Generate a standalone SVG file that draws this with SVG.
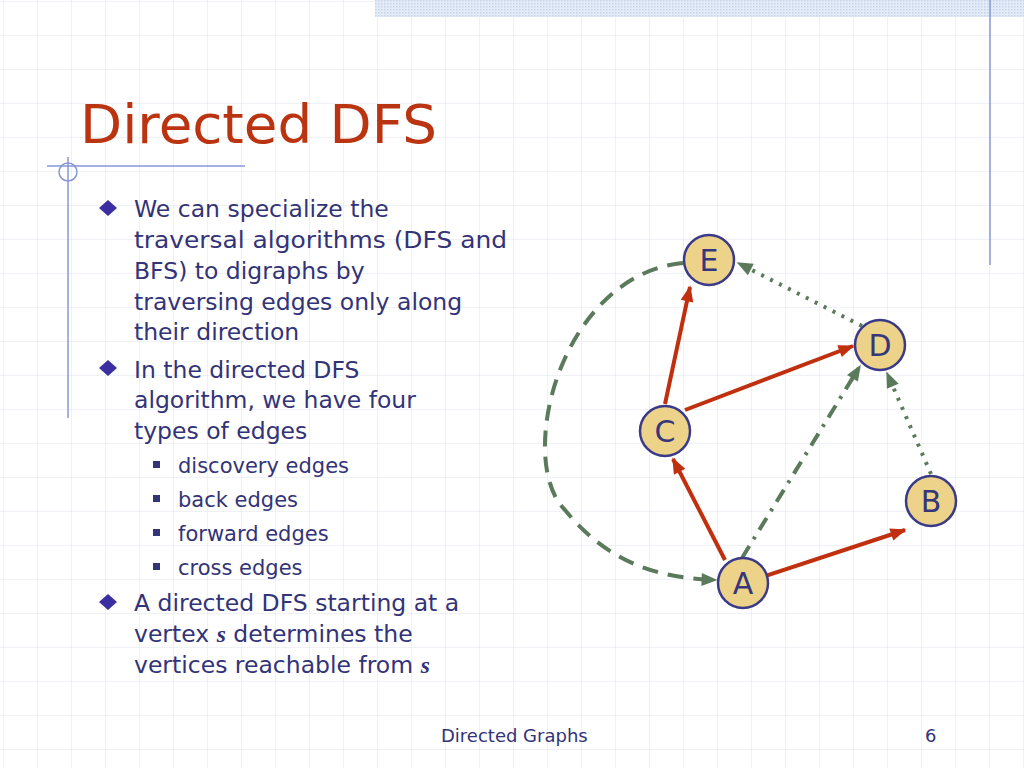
<svg xmlns="http://www.w3.org/2000/svg" width="1024" height="768" viewBox="0 0 1024 768">
<defs>
<pattern id="grid" x="3" y="1" width="34" height="34" patternUnits="userSpaceOnUse">
<path d="M0 0H34M0 0V34" fill="none" stroke="#dde3ee" stroke-width="1"/>
</pattern>
<pattern id="dots" width="3" height="3" patternUnits="userSpaceOnUse">
<rect width="3" height="3" fill="#e4ecf8"/><rect width="1.5" height="1.5" fill="#c4d2ec"/>
</pattern>
<marker id="ar" viewBox="0 0 10 10" refX="9" refY="5" markerWidth="6" markerHeight="6" orient="auto" markerUnits="userSpaceOnUse"><path d="M0 0L10 5L0 10z" fill="#c0300e"/></marker>
<marker id="ag" viewBox="0 0 10 10" refX="9" refY="5" markerWidth="6" markerHeight="6" orient="auto" markerUnits="userSpaceOnUse"><path d="M0 0L10 5L0 10z" fill="#5b7a5b"/></marker>
<marker id="ar2" viewBox="0 0 10 10" refX="9" refY="5" markerWidth="18" markerHeight="16" orient="auto" markerUnits="userSpaceOnUse"><path d="M0 1L10 5L0 9z" fill="#c0300e"/></marker>
<marker id="ag2" viewBox="0 0 10 10" refX="9" refY="5" markerWidth="18" markerHeight="16" orient="auto" markerUnits="userSpaceOnUse"><path d="M0 1L10 5L0 9z" fill="#5b7a5b"/></marker>
</defs>
<style>
.t{font-family:"DejaVu Sans",Verdana,sans-serif;fill:#333378}
.b{font-size:23.5px}
.s{font-size:21px}
.n{fill:#edd389;stroke:#3a3a88;stroke-width:2.5}
.nl{font-family:"DejaVu Sans",sans-serif;font-size:30px;fill:#36367a;text-anchor:middle}
.red{stroke:#c0300e;stroke-width:4;fill:none;marker-end:url(#ar2)}
.grn{stroke:#5b7a5b;stroke-width:4;fill:none;marker-end:url(#ag2)}
</style>
<rect width="1024" height="768" fill="#fff"/>
<rect width="1024" height="768" fill="url(#grid)"/>
<rect x="375" y="0" width="649" height="17" fill="url(#dots)"/>
<line x1="990" y1="0" x2="990" y2="265" stroke="#8797d6" stroke-width="1.5"/>
<line x1="47" y1="166" x2="245" y2="166" stroke="#8797d6" stroke-width="1.5"/>
<line x1="68" y1="157" x2="68" y2="418" stroke="#8797d6" stroke-width="1.5"/>
<circle cx="68" cy="172" r="9" fill="none" stroke="#8797d6" stroke-width="1.5"/>
<text x="80" y="143" font-family="DejaVu Sans,Verdana,sans-serif" font-size="54" fill="#bb3411" textLength="357" lengthAdjust="spacingAndGlyphs">Directed DFS</text>
<g id="text" class="t">
<g fill="#3a2ea0"><path d="M108 200l9 8-9 8-9-8z"/><path d="M108 360l9 8-9 8-9-8z"/><path d="M108 594l9 8-9 8-9-8z"/></g>
<g fill="#333378"><rect x="153" y="461" width="7" height="7"/><rect x="153" y="495" width="7" height="7"/><rect x="153" y="529" width="7" height="7"/><rect x="153" y="563" width="7" height="7"/></g>
<text class="t b" x="134" y="217">We can specialize the</text>
<text class="t b" x="134" y="248" textLength="373" lengthAdjust="spacingAndGlyphs">traversal algorithms (DFS and</text>
<text class="t b" x="134" y="279">BFS) to digraphs by</text>
<text class="t b" x="134" y="310">traversing edges only along</text>
<text class="t b" x="134" y="340">their direction</text>
<text class="t b" x="134" y="378">In the directed DFS</text>
<text class="t b" x="134" y="408">algorithm, we have four</text>
<text class="t b" x="134" y="439">types of edges</text>
<text class="t s" x="178" y="473">discovery edges</text>
<text class="t s" x="178" y="507">back edges</text>
<text class="t s" x="178" y="541">forward edges</text>
<text class="t s" x="178" y="575">cross edges</text>
<text class="t b" x="134" y="611">A directed DFS starting at a</text>
<text class="t b" x="134" y="642">vertex <tspan font-family="Liberation Serif,serif" font-style="italic" font-weight="bold">s</tspan> determines the</text>
<text class="t b" x="134" y="673">vertices reachable from <tspan font-family="Liberation Serif,serif" font-style="italic" font-weight="bold">s</tspan></text>
<text class="t" x="441" y="742" font-size="18">Directed Graphs</text>
<text class="t" x="925" y="742" font-size="18">6</text>
</g>
<g id="edges">
<line class="red" x1="665" y1="404" x2="690" y2="287"/>
<line class="red" x1="685" y1="410" x2="853" y2="346"/>
<line class="red" x1="725" y1="560" x2="673" y2="459"/>
<line class="red" x1="762" y1="577" x2="905" y2="530"/>
<line class="grn" stroke-dasharray="3 7" stroke-width="4" x1="862" y1="326" x2="738" y2="263"/>
<line class="grn" stroke-dasharray="3 7" x1="931" y1="474" x2="887" y2="373"/>
<line class="grn" stroke-dasharray="14 8 3 8" x1="742" y1="558" x2="860" y2="366"/>
<path class="grn" stroke-dasharray="16 10" d="M683 263C560 275 515 460 565 510C610 565 660 578 716 580"/>
</g>
<g id="nE"><circle class="n" cx="709" cy="260" r="25"/><text class="nl" x="709" y="271">E</text></g>
<g id="nD"><circle class="n" cx="880" cy="345" r="25"/><text class="nl" x="880" y="356">D</text></g>
<g id="nC"><circle class="n" cx="665" cy="431" r="25"/><text class="nl" x="665" y="442">C</text></g>
<g id="nB"><circle class="n" cx="931" cy="501" r="25"/><text class="nl" x="931" y="512">B</text></g>
<g id="nA"><circle class="n" cx="743" cy="583" r="25"/><text class="nl" x="743" y="594">A</text></g>
</svg>
